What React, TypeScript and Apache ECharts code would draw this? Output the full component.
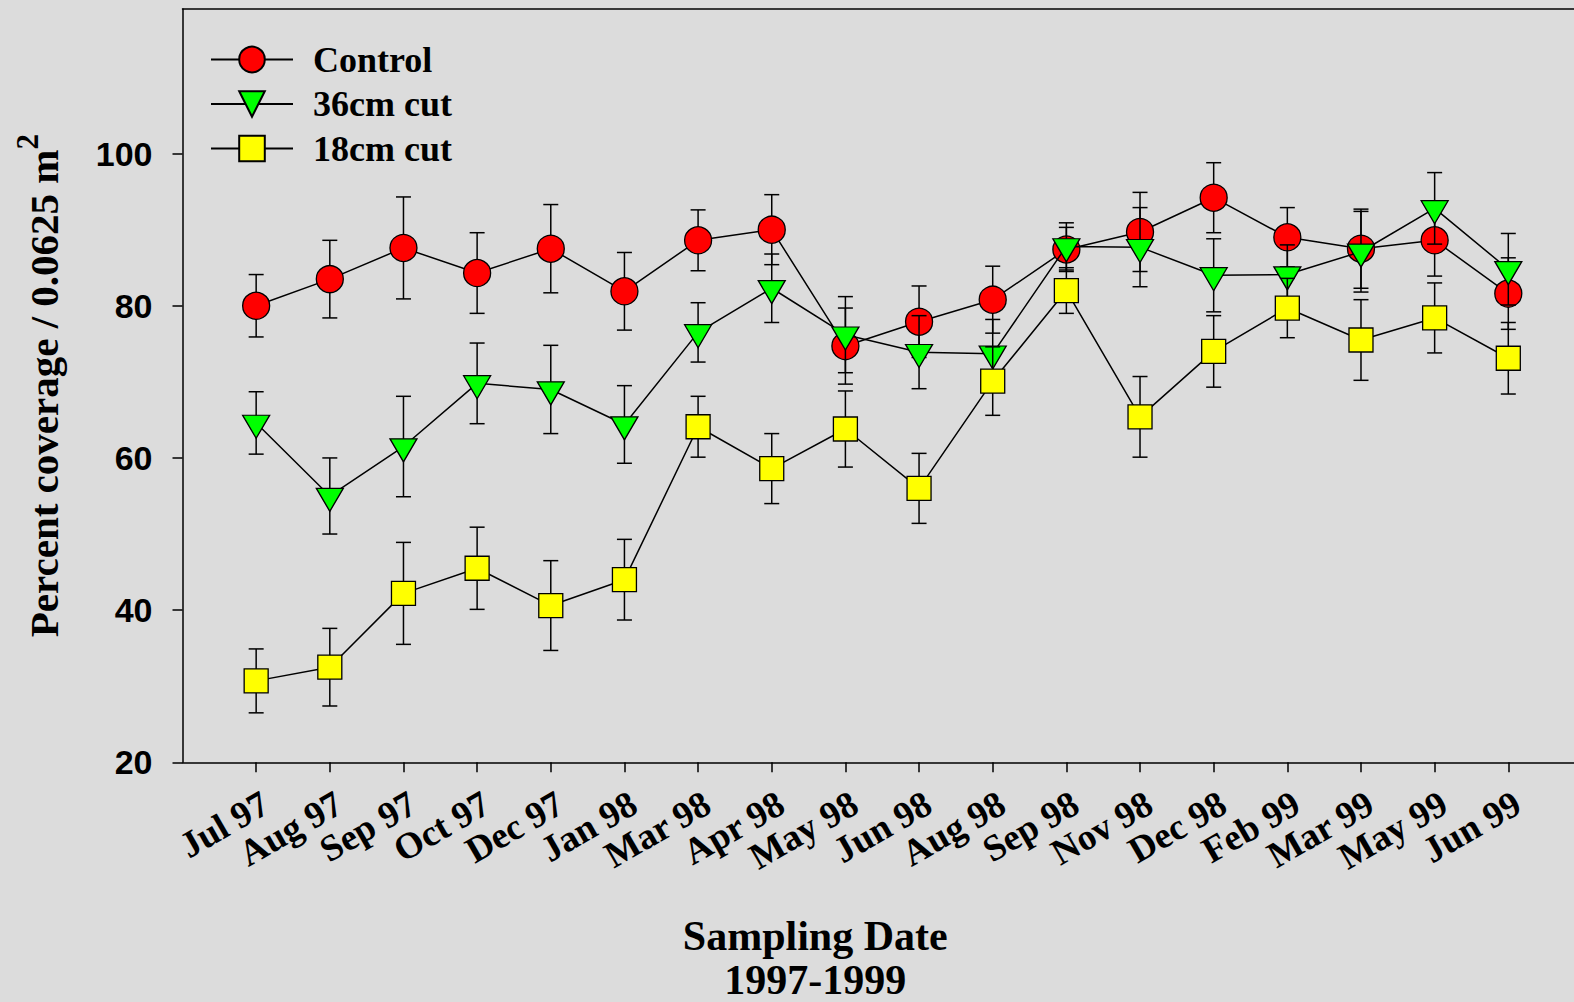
import React, { useEffect, useRef } from 'react';
import * as echarts from 'echarts';

const CATEGORIES = [
  'Jul 97', 'Aug 97', 'Sep 97', 'Oct 97', 'Dec 97', 'Jan 98', 'Mar 98', 'Apr 98', 'May 98',
  'Jun 98', 'Aug 98', 'Sep 98', 'Nov 98', 'Dec 98', 'Feb 99', 'Mar 99', 'May 99', 'Jun 99',
];

const CONTROL = [80.0, 83.5, 87.6, 84.3, 87.5, 81.9, 88.6, 90.0, 74.7, 77.9, 80.8, 87.4, 89.7, 94.2, 89.0, 87.5, 88.6, 81.6];
const CONTROL_ERR = [4.1, 5.1, 6.7, 5.3, 5.8, 5.1, 4.0, 4.6, 5.0, 4.7, 4.4, 2.9, 5.2, 4.6, 3.9, 5.2, 4.7, 4.7];

const CUT36 = [64.6, 55.0, 61.5, 69.8, 69.0, 64.4, 76.5, 82.3, 76.2, 73.9, 73.7, 87.8, 87.7, 84.0, 84.1, 87.1, 92.8, 84.8];
const CUT36_ERR = [4.1, 5.0, 6.6, 5.3, 5.8, 5.1, 3.9, 4.5, 5.0, 4.8, 4.5, 3.1, 5.2, 4.8, 3.9, 5.3, 4.7, 4.7];

const CUT18 = [30.7, 32.5, 42.2, 45.5, 40.6, 44.0, 64.1, 58.6, 63.8, 56.0, 70.1, 82.0, 65.4, 74.0, 79.7, 75.5, 78.4, 73.1];
const CUT18_ERR = [4.2, 5.1, 6.7, 5.4, 5.9, 5.3, 4.0, 4.6, 5.0, 4.6, 4.5, 3.0, 5.3, 4.7, 3.9, 5.3, 4.6, 4.7];

const SERIES_NAMES = ['Control', '36cm cut', '18cm cut'];
const Y_TICKS = [20, 40, 60, 80, 100];
const X_TITLE = '{a|Sampling Date}\n{b|1997-1999}';
const Y_TITLE = 'Percent coverage / 0.0625 m{sup|2}';

const SERIF = '"Liberation Serif", "Times New Roman", Times, serif';
const SANS = '"Liberation Sans", Arial, Helvetica, sans-serif';

const TRIANGLE_DOWN = 'path://M0,0L27,0L13.5,23Z';

function errorSeries(name: string, values: number[], errs: number[], z: number) {
  return {
    type: 'custom',
    name,
    z,
    silent: true,
    data: values.map((v, i) => [i, v, errs[i]]),
    encode: { x: 0, y: 1 },
    renderItem: (params: any, api: any) => {
      const x = api.value(0);
      const v = api.value(1);
      const e = api.value(2);
      const top = api.coord([x, v + e]);
      const bot = api.coord([x, v - e]);
      const hw = 7.5;
      const style = { stroke: '#000', lineWidth: 1.5 };
      return {
        type: 'group',
        children: [
          { type: 'line', shape: { x1: top[0], y1: top[1], x2: bot[0], y2: bot[1] }, style },
          { type: 'line', shape: { x1: top[0] - hw, y1: top[1], x2: top[0] + hw, y2: top[1] }, style },
          { type: 'line', shape: { x1: bot[0] - hw, y1: bot[1], x2: bot[0] + hw, y2: bot[1] }, style },
        ],
      };
    },
  };
}

function lineSeries(name: string, values: number[], z: number, symbol: string, size: any, color: string, offset: any) {
  return {
    type: 'line',
    name,
    z,
    data: values.map((v, i) => [i, v]),
    symbol,
    symbolSize: size,
    symbolOffset: offset,
    showAllSymbol: true,
    itemStyle: { color, borderColor: '#000', borderWidth: 1.3, opacity: 1 },
    lineStyle: { color: '#000', width: 1.5 },
    emphasis: { disabled: true },
  };
}

export default function App() {
  const ref = useRef<HTMLDivElement>(null);

  useEffect(() => {
    if (!ref.current) return;
    const chart = echarts.init(ref.current, undefined, { renderer: 'svg' });
    const idx = CATEGORIES.map((_, i) => i);
    const axisLineStyle = { color: '#000', width: 1.5 };
    const titleFont = { fontFamily: SERIF, fontSize: 42, fontWeight: 'bold', color: '#000' };

    chart.setOption({
      animation: false,
      backgroundColor: '#dcdcdc',
      grid: { left: 182.5, right: 0, top: 9, bottom: 239.7, containLabel: false, outerBoundsMode: 'none' },
      legend: {
        orient: 'vertical',
        left: 205,
        top: 36.5,
        padding: 5,
        itemWidth: 82,
        itemHeight: 32,
        itemGap: 8.5,
        selectedMode: false,
        data: SERIES_NAMES,
        textStyle: {
          fontFamily: SERIF,
          fontSize: 36,
          fontWeight: 'bold',
          color: '#000',
          lineHeight: 35,
          padding: [0, 0, 0, 15],
        },
      },
      xAxis: [
        {
          type: 'value',
          min: -1,
          max: 17.892,
          interval: 1,
          position: 'bottom',
          splitLine: { show: false },
          axisLine: { show: true, onZero: false, lineStyle: axisLineStyle },
          axisTick: { show: true, length: 10, inside: false, customValues: idx, lineStyle: axisLineStyle },
          axisLabel: {
            customValues: idx,
            formatter: (v: number) => CATEGORIES[Math.round(v)] ?? '',
            rotate: 30,
            align: 'right',
            verticalAlign: 'top',
            margin: 22,
            fontFamily: SERIF,
            fontSize: 37,
            fontWeight: 'bold',
            color: '#000',
            hideOverlap: false,
          },
          name: X_TITLE,
          nameLocation: 'middle',
          nameGap: 148,
          nameTextStyle: {
            ...titleFont,
            align: 'center',
            padding: [0, 126, 0, 0],
            rich: {
              a: { ...titleFont, lineHeight: 52 },
              b: { ...titleFont, lineHeight: 35 },
            },
          },
        },
        {
          type: 'value',
          min: -1,
          max: 17.892,
          position: 'top',
          splitLine: { show: false },
          axisLine: { show: true, onZero: false, lineStyle: axisLineStyle },
          axisTick: { show: false },
          axisLabel: { show: false },
        },
      ],
      yAxis: {
        type: 'value',
        min: 20,
        max: 119,
        interval: 20,
        splitLine: { show: false },
        axisLine: { show: true, onZero: false, lineStyle: axisLineStyle },
        axisTick: { show: true, length: 10, inside: false, customValues: Y_TICKS, lineStyle: axisLineStyle },
        axisLabel: {
          customValues: Y_TICKS,
          margin: 30,
          fontFamily: SANS,
          fontSize: 34,
          fontWeight: 'bold',
          color: '#000',
        },
        name: Y_TITLE,
        nameLocation: 'middle',
        nameRotate: 90,
        nameGap: 118,
        nameTextStyle: {
          fontFamily: SERIF,
          fontSize: 41,
          fontWeight: 'bold',
          color: '#000',
          lineHeight: 41,
          verticalAlign: 'bottom',
          rich: {
            sup: {
              fontFamily: SERIF,
              fontSize: 31,
              fontWeight: 'bold',
              color: '#000',
              lineHeight: 31,
              verticalAlign: 'bottom',
              padding: [0, 0, 22, 0],
            },
          },
        },
      },
      series: [
        errorSeries('Control SE', CONTROL, CONTROL_ERR, 1),
        lineSeries('Control', CONTROL, 2, 'circle', 27, '#ff0000', [0, 0]),
        errorSeries('36cm SE', CUT36, CUT36_ERR, 3),
        lineSeries('36cm cut', CUT36, 4, TRIANGLE_DOWN, [27, 23], '#00ff00', [0, 3.83]),
        errorSeries('18cm SE', CUT18, CUT18_ERR, 5),
        lineSeries('18cm cut', CUT18, 6, 'rect', 24, '#ffff00', [0, 0]),
      ],
    });

    return () => chart.dispose();
  }, []);

  return (
    <div
      ref={ref}
      style={{ position: 'absolute', left: 0, top: 0, width: 1574, height: 1002 }}
    />
  );
}
